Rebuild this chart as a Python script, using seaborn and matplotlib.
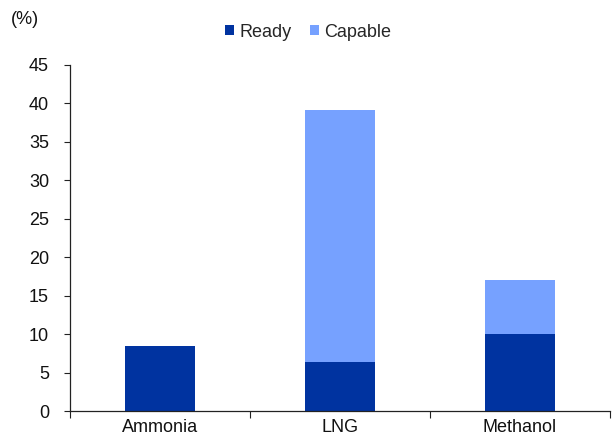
import matplotlib
matplotlib.use("Agg")
import matplotlib.pyplot as plt
import seaborn as sns
import pandas as pd
import numpy as np
from matplotlib.patches import Patch

# Share of fleet by alternative-fuel status
fuels = ["Ammonia", "LNG", "Methanol"]
ready = [8.4, 6.4, 10.0]
capable = [0.0, 32.7, 7.0]
y_ticks = [0, 5, 10, 15, 20, 25, 30, 35, 40, 45]

dark_blue = "#0033A0"
light_blue = "#76A1FF"

sns.set_theme(style="white")
plt.rcParams["font.family"] = ["Liberation Sans Narrow", "Liberation Sans", "DejaVu Sans"]

df = pd.DataFrame({"fuel": fuels, "ready": ready, "capable": capable})
df["total"] = df["ready"] + df["capable"]

fig = plt.figure(figsize=(6.13, 4.41), dpi=100)
ax = fig.add_axes([0.114, 0.068, 0.881, 0.785])

# stacked bars: total first (light), ready on top (dark)
sns.barplot(data=df, x="fuel", y="total", color=light_blue, width=0.39,
            saturation=1, ax=ax, order=fuels, linewidth=0, edgecolor="none")
sns.barplot(data=df, x="fuel", y="ready", color=dark_blue, width=0.39,
            saturation=1, ax=ax, order=fuels, linewidth=0, edgecolor="none")

ax.set_xlim(-0.5, 2.5)
ax.set_ylim(0, 45)
ax.set_yticks(y_ticks)
ax.set_xlabel("")
ax.set_ylabel("")

for s in ["top", "right"]:
    ax.spines[s].set_visible(False)
for s in ["left", "bottom"]:
    ax.spines[s].set_color("#222222")
    ax.spines[s].set_linewidth(0.9)

ax.tick_params(axis="y", which="major", left=True, length=4, width=0.8,
               color="#222222", labelsize=13, pad=11, labelcolor="#111111")
ax.tick_params(axis="x", which="major", bottom=False, length=0,
               labelsize=13, pad=6, labelcolor="#111111")
ax.set_xticks([-0.5, 0.5, 1.5, 2.5], minor=True)
ax.tick_params(axis="x", which="minor", bottom=True, length=5, width=0.8,
               color="#222222")

handles = [Patch(facecolor=dark_blue, edgecolor="none", label="Ready"),
           Patch(facecolor=light_blue, edgecolor="none", label="Capable")]
fig.legend(handles=handles, loc="center", bbox_to_anchor=(0.503, 0.927),
           ncol=2, frameon=False, fontsize=13, handlelength=0.5,
           handleheight=0.5, handletextpad=0.3, columnspacing=1.0)

fig.text(0.018, 0.955, "(%)", fontsize=13, ha="left", va="center",
         color="#111111")

fig.savefig("out.png", dpi=100)
